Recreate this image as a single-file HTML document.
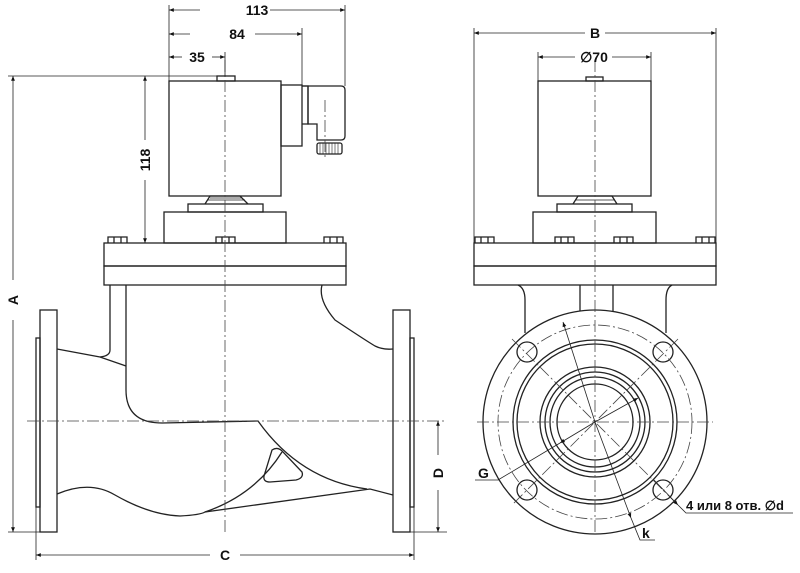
<!DOCTYPE html>
<html><head><meta charset="utf-8"><style>
html,body{margin:0;padding:0;background:#fff}
svg{display:block}
text{font-family:"Liberation Sans",sans-serif;font-weight:bold;fill:#111}
</style></head><body>
<svg width="800" height="573" viewBox="0 0 800 573" xmlns="http://www.w3.org/2000/svg">
<defs>
<marker id="a" viewBox="0 0 10 10" refX="10" refY="5" markerWidth="8" markerHeight="6" orient="auto-start-reverse"><path d="M0,1 L10,5 L0,9 z" fill="#111"/></marker>
</defs>
<g fill="none" stroke="#222" stroke-width="1.3">
<!-- LEFT VIEW -->
<rect x="169" y="81" width="112" height="115"/>
<rect x="217" y="76" width="18" height="5"/>
<rect x="281" y="85" width="21" height="61"/>
<path d="M302,86 H341 Q345,86 345,90 V136 Q345,140 341,140 H317 V124 H308 V86"/>
<path d="M302,86 H308 V124 H302"/>
<rect x="317" y="143" width="25" height="11" rx="2"/>
<path d="M320,143v11M323,143v11M326,143v11M329,143v11M332,143v11M335,143v11M338,143v11" stroke-width="0.6"/>
<path d="M205,204 L210,196 H240 L248,204" />
<path d="M208,200 H245 M210,198 H242" stroke-width="0.8"/>
<rect x="188" y="204" width="75" height="8"/>
<rect x="164" y="212" width="122" height="31"/>
<rect x="104" y="243" width="242" height="23"/>
<rect x="104" y="266" width="242" height="19"/>
<!-- bolts -->
<path d="M108,243 v-6 h19 v6 M114,237v6 M121,237v6"/>
<path d="M216,243 v-6 h19 v6 M222,237v6 M229,237v6"/>
<path d="M324,243 v-6 h19 v6 M330,237v6 M337,237v6"/>
<!-- body -->
<path d="M110,285 V350 Q110,356 100,357"/>
<path d="M126,285 V390 Q126,423 162,423 L258,421"/>
<path d="M57,349 L100,357 L126,366"/>
<path d="M322,285 Q318,300 335,320 Q365,340 375,346 Q383,350 393,349"/>
<path d="M57,494 Q90,480 115,495 Q150,515 180,516 Q200,515 205,512 L370,489 L393,495"/>
<path d="M258,421 Q300,480 367,489"/>
<path d="M205,512 Q255,495 282,452"/>
<path d="M272,450 Q278,446 283,452 L302,472 Q304,478 296,480 L270,482 Q263,482 264,476 Z"/>
<rect x="40" y="310" width="17" height="222"/>
<rect x="36" y="338" width="4" height="169"/>
<rect x="393" y="310" width="17" height="222"/>
<rect x="410" y="338" width="4" height="169"/>
<!-- RIGHT VIEW -->
<rect x="538" y="81" width="113" height="115"/>
<rect x="586" y="77" width="17" height="4"/>
<path d="M573,204 L578,196 H612 L617,204"/>
<path d="M576,200 H615" stroke-width="0.8"/>
<rect x="557" y="204" width="75" height="8"/>
<rect x="533" y="212" width="123" height="31"/>
<rect x="474" y="243" width="242" height="23"/>
<rect x="474" y="266" width="242" height="19"/>
<path d="M475,243 v-6 h19 v6 M481,237v6 M488,237v6"/>
<path d="M555,243 v-6 h19 v6 M561,237v6 M568,237v6"/>
<path d="M614,243 v-6 h19 v6 M620,237v6 M627,237v6"/>
<path d="M696,243 v-6 h19 v6 M702,237v6 M709,237v6"/>
<path d="M518,285 Q525,288 525,300 V333"/>
<path d="M672,285 Q666,288 666,300 V333"/>
<path d="M580,285 V311 M613,285 V311"/>
<circle cx="595" cy="422" r="112" fill="#fff"/>
<circle cx="595" cy="422" r="82"/>
<circle cx="595" cy="422" r="78"/>
<circle cx="595" cy="422" r="55"/>
<circle cx="595" cy="422" r="50"/>
<circle cx="595" cy="422" r="45"/>
<circle cx="595" cy="422" r="38"/>
<circle cx="527" cy="352" r="10"/>
<circle cx="663" cy="352" r="10"/>
<circle cx="527" cy="490" r="10"/>
<circle cx="663" cy="490" r="10"/>
</g>
<!-- centerlines -->
<g stroke="#444" stroke-width="0.8" stroke-dasharray="12,3,2,3" fill="none">
<path d="M225,60 V535"/>
<path d="M27,421 H447"/>
<path d="M595,60 V535"/>
<path d="M477,422 H713"/>
<path d="M325,100 V160"/>
<circle cx="595" cy="422" r="97"/>
<path d="M512,339 L678,505 M678,339 L512,505"/>
</g>
<!-- dimension lines -->
<g stroke="#222" stroke-width="0.8" fill="none">
<path d="M169,5 V81 M345,5 V86 M302,28 V86 M225,52 V76"/>
<path d="M8,76 H230"/>
<path d="M8,532 H57 M36,507 V560 M414,507 V560 M410,532 H447"/>
<path d="M474,28 V243 M716,28 V243 M538,52 V81 M651,52 V81"/>
<path d="M200,10 H169" marker-end="url(#a)"/><path d="M270,10 H345" marker-end="url(#a)"/>
<path d="M190,34 H169" marker-end="url(#a)"/><path d="M255,34 H302" marker-end="url(#a)"/>
<path d="M182,57 H169" marker-end="url(#a)"/><path d="M212,57 H225" marker-end="url(#a)"/>
<path d="M145,140 V76" marker-end="url(#a)"/><path d="M145,180 V243" marker-end="url(#a)"/>
<path d="M13,280 V76" marker-end="url(#a)"/><path d="M13,320 V532" marker-end="url(#a)"/>
<path d="M210,555 H36" marker-end="url(#a)"/><path d="M240,555 H414" marker-end="url(#a)"/>
<path d="M438,455 V421" marker-end="url(#a)"/><path d="M438,490 V532" marker-end="url(#a)"/>
<path d="M585,33 H474" marker-end="url(#a)"/><path d="M605,33 H716" marker-end="url(#a)"/>
<path d="M575,57 H538" marker-end="url(#a)"/><path d="M612,57 H651" marker-end="url(#a)"/>
<path d="M595,422 L563,322" marker-end="url(#a)"/><path d="M595,422 L631,518" marker-end="url(#a)"/>
<path d="M631,518 L640,540 H655"/>
<path d="M595,422 L638,398" marker-end="url(#a)"/><path d="M595,422 L560,443" marker-end="url(#a)"/>
<path d="M560,443 L498,480 H475"/>
<path d="M654,480 L678,505" marker-end="url(#a)"/>
<path d="M678,505 L686,513 H793"/>
</g>
<g font-size="14">
<text x="257" y="15" text-anchor="middle">113</text>
<text x="237" y="39" text-anchor="middle">84</text>
<text x="197" y="62" text-anchor="middle">35</text>
<text x="225" y="560" text-anchor="middle">C</text>
<text x="595" y="38" text-anchor="middle">B</text>
<text x="594" y="62" text-anchor="middle">∅70</text>
<text x="478" y="478">G</text>
<text x="642" y="538">k</text>
<text x="686" y="510" font-size="13">4 или 8 отв. ∅d</text>
<text transform="translate(150,160) rotate(-90)" text-anchor="middle">118</text>
<text transform="translate(18,300) rotate(-90)" text-anchor="middle">A</text>
<text transform="translate(443,473) rotate(-90)" text-anchor="middle">D</text>
</g>
</svg>
</body></html>
